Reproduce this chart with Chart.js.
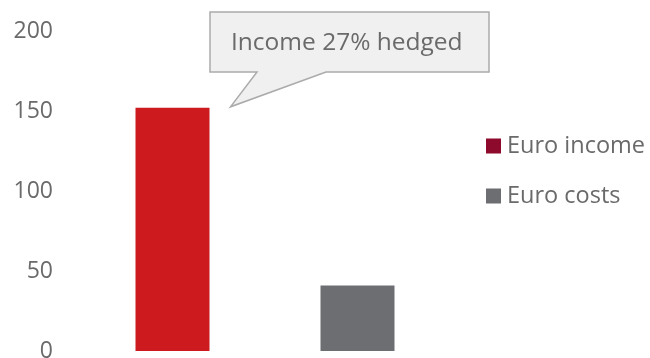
<!DOCTYPE html>
<html>
<head>
<meta charset="utf-8">
<script src="https://cdn.jsdelivr.net/npm/chart.js@4/dist/chart.umd.min.js"></script>
<style>
  html, body { margin: 0; padding: 0; background: #ffffff; }
  canvas { display: block; }
</style>
</head>
<body>
<canvas id="c" width="650" height="358" style="width:650px;height:358px"></canvas>
<script>
// Categories and values
const categories = ["Euro income", "Euro costs"];
const values = [152, 41];
const barColors = ["#cc1a1f", "#6d6e72"];
const legendColors = ["#8e0a2c", "#6d6e72"];
const yTicks = [0, 50, 100, 150, 200];
const calloutText = "Income 27% hedged";

const FONT = "'Open Sans', 'Noto Sans', sans-serif";
const TEXT = "#6a6a6a";

// Speech-bubble note tied to the first bar, plus a side legend
const notesPlugin = {
  id: "notes",
  afterDraw(chart) {
    const ctx = chart.ctx;
    const bar = chart.getDatasetMeta(0).data[0];
    const tipX = bar.x + bar.width / 2 + 21;
    const tipY = bar.y - 1;

    const bx = 210, by = 12, bw = 279, bh = 60;
    ctx.save();
    ctx.beginPath();
    ctx.moveTo(bx, by);
    ctx.lineTo(bx + bw, by);
    ctx.lineTo(bx + bw, by + bh);
    ctx.lineTo(326, by + bh);
    ctx.lineTo(tipX, tipY);
    ctx.lineTo(257, by + bh);
    ctx.lineTo(bx, by + bh);
    ctx.closePath();
    ctx.fillStyle = "#f0f0f0";
    ctx.fill();
    ctx.lineWidth = 1.5;
    ctx.strokeStyle = "#ababab";
    ctx.stroke();

    ctx.fillStyle = TEXT;
    ctx.font = "24.5px " + FONT;
    ctx.textBaseline = "middle";
    ctx.textAlign = "left";
    ctx.fillText(calloutText, 231, 43);

    // legend
    const lx = 486, ly0 = 146, gap = 50, box = 15;
    ctx.font = "23.5px " + FONT;
    categories.forEach((name, i) => {
      const cy = ly0 + i * gap;
      ctx.fillStyle = legendColors[i];
      ctx.fillRect(lx, cy - box / 2, box, box);
      ctx.fillStyle = TEXT;
      ctx.fillText(name, lx + 21, cy);
    });
    ctx.restore();
  }
};

new Chart(document.getElementById("c"), {
  type: "bar",
  data: {
    labels: categories,
    datasets: [{
      label: "Euro",
      data: values,
      backgroundColor: barColors,
      borderWidth: 0,
      categoryPercentage: 1.0,
      barPercentage: 0.4
    }]
  },
  options: {
    responsive: false,
    animation: false,
    layout: { padding: { left: 0, right: 200, top: 31, bottom: 7 } },
    plugins: { legend: { display: false }, tooltip: { enabled: false } },
    scales: {
      x: {
        display: false,
        grid: { display: false }
      },
      y: {
        min: 0,
        max: 200,
        grid: { display: false, drawTicks: false },
        border: { display: false },
        afterBuildTicks(scale) { scale.ticks = yTicks.map(v => ({ value: v })); },
        afterFit(scale) {
          scale.width = 80;
          scale.paddingTop = 0;
          scale.paddingBottom = 0;
        },
        ticks: {
          padding: 27,
          color: TEXT,
          font: { family: FONT, size: 23 }
        }
      }
    }
  },
  plugins: [notesPlugin]
});
</script>
</body>
</html>
